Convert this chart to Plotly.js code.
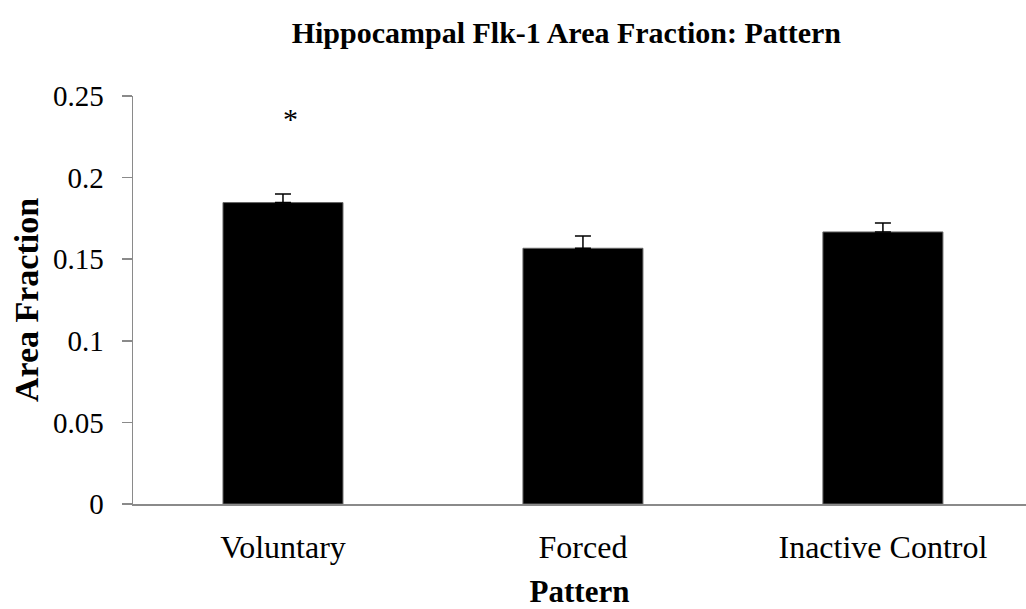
<!DOCTYPE html>
<html>
<head>
<meta charset="utf-8">
<script src="https://cdn.plot.ly/plotly-3.0.1.min.js"></script>
<style>html,body{margin:0;padding:0;background:#fff;}#chart{width:1026px;height:609px;}</style>
</head>
<body>
<div id="chart"></div>
<script>
const categories = ["Voluntary", "Forced", "Inactive Control"];
const areaFraction = [0.1847, 0.1567, 0.1667];
const errorSE = [0.0053, 0.0075, 0.0055];
const yTickVals = [0, 0.05, 0.1, 0.15, 0.2, 0.25];
const yTickText = ["0", "0.05", "0.1", "0.15", "0.2", "0.25"];
const sigMarks = [{category: "Voluntary", y: 0.236, text: "*"}];

const font = "Liberation Serif, Times New Roman, serif";

const trace = {
  type: "bar",
  x: [0, 1, 2],
  y: areaFraction,
  width: 0.4,
  marker: {color: "#000000", line: {color: "#666666", width: 1}},
  error_y: {type: "data", array: errorSE, visible: true, color: "#000000", thickness: 1.5, width: 8, symmetric: false, arrayminus: [0,0,0]},
  hoverinfo: "none"
};

const layout = {
  width: 1026, height: 609,
  margin: {l: 133, r: 0, t: 96, b: 105},
  paper_bgcolor: "#ffffff", plot_bgcolor: "#ffffff",
  showlegend: false,
  title: {text: "<b>Hippocampal Flk-1 Area Fraction: Pattern</b>", font: {family: font, size: 30, color: "#000"}, x: 0.552, xanchor: "center", y: 0.947, yanchor: "middle"},
  xaxis: {
    range: [-0.5, 2.477],
    tickvals: [0, 1, 2], ticktext: categories,
    tickfont: {family: font, size: 32, color: "#000"},
    ticklabelstandoff: 14,
    showline: true, linecolor: "#8a8a8a", linewidth: 1.5,
    ticks: "", showgrid: false, zeroline: false,
    title: {text: "<b>Pattern</b>", font: {family: font, size: 31, color: "#000"}, standoff: 16}
  },
  yaxis: {
    range: [0, 0.25],
    tickvals: yTickVals, ticktext: yTickText,
    tickfont: {family: font, size: 29, color: "#000"},
    ticklabelstandoff: 12,
    showline: true, linecolor: "#8a8a8a", linewidth: 1.5,
    ticks: "outside", ticklen: 10, tickcolor: "#8a8a8a", tickwidth: 1.5,
    showgrid: false, zeroline: false,
    title: {text: "<b>Area Fraction</b>", font: {family: font, size: 34, color: "#000"}, standoff: 4}
  },
  annotations: sigMarks.map(m => ({
    x: categories.indexOf(m.category), y: m.y, xref: "x", yref: "y",
    text: m.text, showarrow: false, xshift: 8,
    font: {family: font, size: 30, color: "#000"}
  }))
};

Plotly.newPlot("chart", [trace], layout, {displayModeBar: false, staticPlot: true});
</script>
</body>
</html>
